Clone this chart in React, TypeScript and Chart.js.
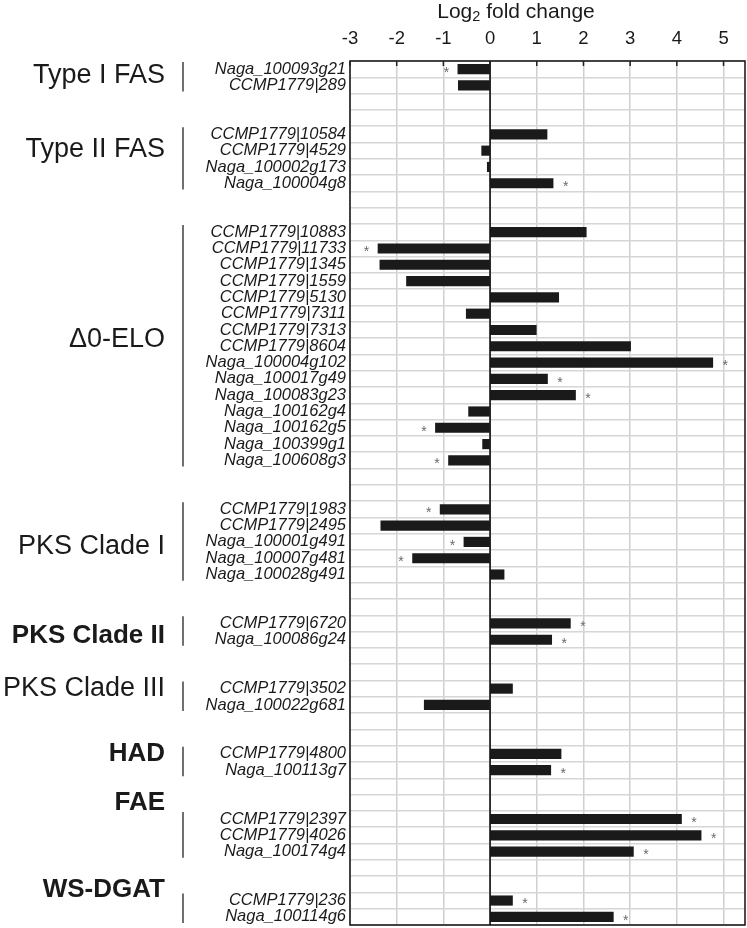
import React, { useEffect, useRef } from "react";
import { Chart, registerables } from "chart.js";

Chart.register(...registerables);

// ---------- data ----------
const categories: string[] = [
  "Naga_100093g21", "CCMP1779|289", "", "",
  "CCMP1779|10584", "CCMP1779|4529", "Naga_100002g173", "Naga_100004g8", "", "",
  "CCMP1779|10883", "CCMP1779|11733", "CCMP1779|1345", "CCMP1779|1559", "CCMP1779|5130",
  "CCMP1779|7311", "CCMP1779|7313", "CCMP1779|8604", "Naga_100004g102", "Naga_100017g49",
  "Naga_100083g23", "Naga_100162g4", "Naga_100162g5", "Naga_100399g1", "Naga_100608g3", "", "",
  "CCMP1779|1983", "CCMP1779|2495", "Naga_100001g491", "Naga_100007g481", "Naga_100028g491", "", "",
  "CCMP1779|6720", "Naga_100086g24", "", "",
  "CCMP1779|3502", "Naga_100022g681", "", "",
  "CCMP1779|4800", "Naga_100113g7", "", "",
  "CCMP1779|2397", "CCMP1779|4026", "Naga_100174g4", "", "",
  "CCMP1779|236", "Naga_100114g6",
];

const log2FoldChange: (number | null)[] = [
  -0.69, -0.68, null, null,
  1.22, -0.18, -0.06, 1.35, null, null,
  2.06, -2.4, -2.36, -1.79, 1.47,
  -0.51, 0.99, 3.01, 4.77, 1.23,
  1.83, -0.46, -1.17, -0.16, -0.89, null, null,
  -1.07, -2.34, -0.56, -1.66, 0.3, null, null,
  1.72, 1.32, null, null,
  0.48, -1.41, null, null,
  1.52, 1.3, null, null,
  4.1, 4.52, 3.07, null, null,
  0.48, 2.64,
];

const significantGenes: string[] = [
  "Naga_100093g21", "Naga_100004g8", "CCMP1779|11733", "Naga_100004g102", "Naga_100017g49",
  "Naga_100083g23", "Naga_100162g5", "Naga_100608g3", "CCMP1779|1983", "Naga_100001g491",
  "Naga_100007g481", "CCMP1779|6720", "Naga_100086g24", "Naga_100113g7", "CCMP1779|2397",
  "CCMP1779|4026", "Naga_100174g4", "CCMP1779|236", "Naga_100114g6",
];

const groupNames: string[] = [
  "Type I FAS", "Type II FAS", "Δ0-ELO", "PKS Clade I", "PKS Clade II",
  "PKS Clade III", "HAD", "FAE", "WS-DGAT",
];
const groupFirstGene: string[] = [
  "Naga_100093g21", "CCMP1779|10584", "CCMP1779|10883", "CCMP1779|1983", "CCMP1779|6720",
  "CCMP1779|3502", "CCMP1779|4800", "CCMP1779|2397", "CCMP1779|236",
];
const groupLastGene: string[] = [
  "CCMP1779|289", "Naga_100004g8", "Naga_100608g3", "Naga_100028g491", "Naga_100086g24",
  "Naga_100022g681", "Naga_100113g7", "Naga_100174g4", "Naga_100114g6",
];

const xTickValues: number[] = [-3, -2, -1, 0, 1, 2, 3, 4, 5];
const X_MIN = -3;
const X_MAX = 5.46;

// ---------- styling ----------
const groupBold = [false, false, false, false, true, false, true, true, true];
const groupLabelDy = [-4, -11, -9, 2, 2, -10, -10, -35, -21];
const FONT = '"Liberation Sans", Arial, Helvetica, sans-serif';

const overlayPlugin = {
  id: "overlay",
  afterDatasetsDraw(chart: any) {
    const { ctx, chartArea: ca, scales } = chart;
    const xs = scales.x;
    const ys = scales.y;
    ctx.save();
    // zero line
    const x0 = xs.getPixelForValue(0);
    ctx.strokeStyle = "#000";
    ctx.lineWidth = 1.5;
    ctx.beginPath();
    ctx.moveTo(x0, ca.top);
    ctx.lineTo(x0, ca.bottom);
    ctx.stroke();
    // frame
    ctx.strokeStyle = "#111";
    ctx.lineWidth = 1.5;
    ctx.strokeRect(ca.left, ca.top, ca.right - ca.left, ca.bottom - ca.top);
    // inner tick marks at top
    ctx.strokeStyle = "#222";
    ctx.lineWidth = 1.5;
    xTickValues.forEach((v) => {
      const px = xs.getPixelForValue(v);
      ctx.beginPath();
      ctx.moveTo(px, ca.top);
      ctx.lineTo(px, ca.top + 5);
      ctx.stroke();
    });
    // asterisks
    ctx.fillStyle = "#6a6a6a";
    ctx.font = `14px ${FONT}`;
    ctx.textAlign = "center";
    ctx.textBaseline = "alphabetic";
    categories.forEach((c, i) => {
      const v = log2FoldChange[i];
      if (v === null || !significantGenes.includes(c)) return;
      const px = xs.getPixelForValue(v) + (v >= 0 ? 12.5 : -11.5);
      const py = ys.getPixelForValue(i);
      ctx.fillText("*", px, py + 0.56 * 14);
    });
    ctx.restore();
  },
  afterDraw(chart: any) {
    const { ctx, chartArea: ca, scales } = chart;
    const ys = scales.y;
    const rowH = (ca.bottom - ca.top) / categories.length;
    ctx.save();
    // title
    const titleSize = 21;
    const subSize = 14.5;
    ctx.fillStyle = "#1a1a1a";
    ctx.textBaseline = "alphabetic";
    ctx.textAlign = "left";
    ctx.font = `${titleSize}px ${FONT}`;
    const w1 = ctx.measureText("Log").width;
    const w3 = ctx.measureText(" fold change").width;
    ctx.font = `${subSize}px ${FONT}`;
    const w2 = ctx.measureText("2").width;
    const total = w1 + w2 + w3;
    let tx = 516 - total / 2;
    const base = 17.5;
    ctx.font = `${titleSize}px ${FONT}`;
    ctx.fillText("Log", tx, base);
    tx += w1;
    ctx.font = `${subSize}px ${FONT}`;
    ctx.fillText("2", tx, base + 3.5);
    tx += w2;
    ctx.font = `${titleSize}px ${FONT}`;
    ctx.fillText(" fold change", tx, base);

    // group labels and brackets
    groupNames.forEach((name, g) => {
      const s = categories.indexOf(groupFirstGene[g]);
      const e = categories.indexOf(groupLastGene[g]);
      const top = ys.getPixelForValue(s) - rowH / 2;
      const bot = ys.getPixelForValue(e) + rowH / 2;
      ctx.strokeStyle = "#222";
      ctx.lineWidth = 1.3;
      ctx.beginPath();
      ctx.moveTo(183, top + 1);
      ctx.lineTo(183, bot - 2);
      ctx.stroke();
      const size = groupBold[g] ? 26 : 27;
      ctx.font = `${groupBold[g] ? "bold " : ""}${size}px ${FONT}`;
      ctx.fillStyle = "#1a1a1a";
      ctx.textAlign = "right";
      ctx.textBaseline = "alphabetic";
      const cy = (top + bot) / 2 + groupLabelDy[g];
      ctx.fillText(name, 165, cy + 0.358 * size);
    });
    ctx.restore();
  },
};

export default function App() {
  const ref = useRef<HTMLCanvasElement>(null);
  useEffect(() => {
    if (!ref.current) return;
    const chart = new Chart(ref.current, {
      type: "bar",
      data: {
        labels: categories,
        datasets: [
          {
            data: log2FoldChange as any,
            backgroundColor: "#1a1a1a",
            barThickness: 9.5,
          },
        ],
      },
      options: {
        indexAxis: "y",
        animation: false,
        responsive: false,
        maintainAspectRatio: false,
        layout: { padding: { left: 0, right: 2, top: 0, bottom: 3 } },
        plugins: {
          legend: { display: false },
          tooltip: { enabled: false },
          title: { display: false },
        },
        scales: {
          x: {
            type: "linear",
            position: "top",
            min: X_MIN,
            max: X_MAX,
            afterBuildTicks: (scale: any) => {
              scale.ticks = xTickValues.map((v) => ({ value: v }));
            },
            afterFit: (scale: any) => {
              scale.height = 61;
              scale.paddingLeft = 0;
              scale.paddingRight = 0;
            },
            grid: { color: "#cfcfcf", lineWidth: 1.5, drawTicks: false },
            border: { display: false },
            ticks: {
              color: "#1a1a1a",
              padding: 11,
              font: { size: 18.5, family: FONT },
              autoSkip: false,
              maxRotation: 0,
            },
          },
          y: {
            type: "category",
            offset: true,
            afterFit: (scale: any) => {
              scale.width = 350;
              scale.paddingTop = 0;
              scale.paddingBottom = 0;
            },
            grid: { color: "#d6d6d6", lineWidth: 1.5, drawTicks: false, offset: true },
            border: { display: false },
            ticks: {
              color: "#1a1a1a",
              padding: 4,
              autoSkip: false,
              font: { size: 16.5, family: FONT, style: "italic" },
            },
          },
        },
      },
      plugins: [overlayPlugin],
    });
    return () => chart.destroy();
  }, []);
  return (
    <div style={{ position: "absolute", left: 0, top: 0, width: 747, height: 928 }}>
      <canvas ref={ref} width={747} height={928} style={{ display: "block", width: 747, height: 928 }} />
    </div>
  );
}
